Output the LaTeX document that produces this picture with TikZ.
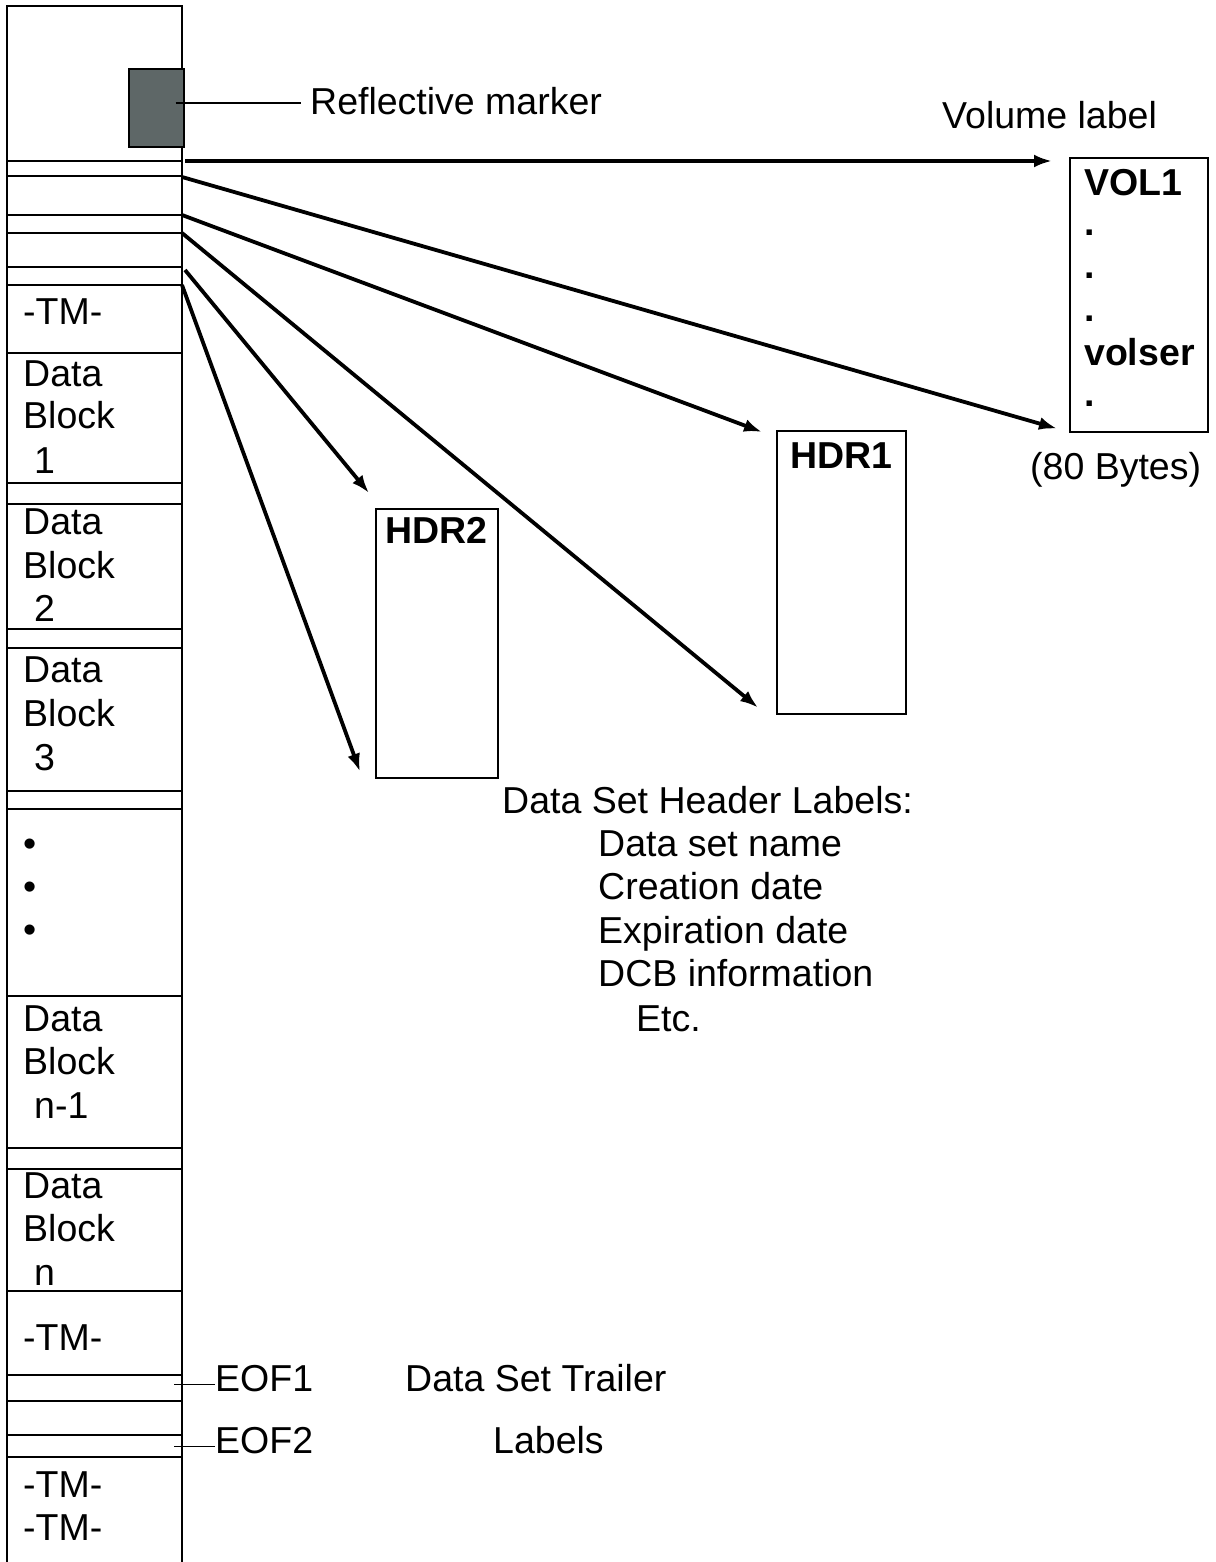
\documentclass[tikz,border=0pt]{standalone}
\usepackage{fontspec}
\setmainfont{Liberation Sans}
\usetikzlibrary{arrows.meta,calc}
\definecolor{markgray}{HTML}{5E6767}

\begin{document}
\begin{tikzpicture}[x=1pt,y=-1pt,
  txt/.style={inner sep=0,anchor=base west,yshift=-13.5pt,font=\fontsize{37.5}{45}\selectfont},
  btxt/.style={txt,font=\fontsize{37.5}{45}\selectfont\bfseries},
  lbox/.style={draw,line width=1.6pt,anchor=north west,inner sep=0},
  thin/.style={line width=1.8pt},
  arr/.style={->,line width=3.8pt},
  >={Latex[length=18pt,width=13pt]}]
  \useasboundingbox (0,0) rectangle (1215,1562);
  % tape
  \draw[thin] (7,1562) |- (182,6) -- (182,1562);
  \foreach \y in {161,176,215,233,267,285,353,483,504,629,648,791,809,996,1148,1169,1291,1375,1401,1435,1457}
    \draw[thin] (7,\y) -- (182,\y);
  \node[lbox,fill=markgray,minimum width=55,minimum height=78] (mark) at (128,68) {};
  \foreach \y/\t in {311/-TM-,373/Data,415/Block,521/Data,565/Block,669/Data,713/Block,
    1018/Data,1061/Block,1185/Data,1228/Block,1337/-TM-,1484/-TM-,1527/-TM-}
    \node[txt] (t\y) at (23,\y) {\t};
  \foreach \y/\t in {460/1,608/2,757/3,1105/n-1,1272/n}
    \node[txt] (n\y) at (34,\y) {\t};
  \foreach \y in {843,886,929}
    \node[txt] (b\y) at (23,\y) {•};
  % reflective marker
  \node[txt] (refl) at (310,101) {Reflective marker};
  \coordinate (rm) at (301,103);
  \draw[line width=1.5pt,shorten <=-9pt] (mark.east |- rm) -- (rm);
  % volume label
  \node[txt] (vlab) at (942,115) {Volume label};
  \node[lbox,minimum width=138,minimum height=274] (vol1) at (1069,157) {};
  \node[btxt] (v1) at (1084,182) {VOL1};
  \foreach \y in {222,265,308,393}
    \node[btxt] (d\y) at (1084,\y) {.};
  \node[btxt] (vser) at (1084,352) {volser};
  \node[txt] (bytes) at (1030,466) {(80 Bytes)};
  % header labels
  \node[lbox,minimum width=129,minimum height=283] (hdr1) at (776,430) {};
  \node[btxt,anchor=base] (h1) at ($(hdr1.north)+(0,25)$) {HDR1};
  \node[lbox,minimum width=122,minimum height=269] (hdr2) at (375,508) {};
  \node[btxt,anchor=base] (h2) at ($(hdr2.north)+(0,22)$) {HDR2};
  % arrows from the tape
  \coordinate (s1) at (185,161);
  \coordinate (s2) at (182,177);
  \coordinate (s3) at (182,215);
  \coordinate (s4) at (182,233);
  \coordinate (s5) at (185,270);
  \coordinate (s6) at (182,285);
  \draw[arr,line width=4.8pt] (s1) -- ($(s1 -| vol1.west)+(-17,0)$);
  \draw[arr] (s2) -- ($(vol1.south west)+(-12,-4)$);
  \draw[arr] (s3) -- ($(hdr1.north west)+(-14,2)$);
  \draw[arr] (s4) -- ($(hdr1.south west)+(-18,-7)$);
  \draw[arr] (s5) -- ($(hdr2.north west)+(-6,-15)$);
  \draw[arr] (s6) -- ($(hdr2.south west)+(-15,-7)$);
  % header contents
  \node[txt] (hl) at (502,800) {Data Set Header Labels:};
  \node[txt] (hl1) at (598,843) {Data set name};
  \node[txt] (hl2) at (598,886) {Creation date};
  \node[txt] (hl3) at (598,930) {Expiration date};
  \node[txt] (hl4) at (598,973) {DCB information};
  \node[txt] (hl5) at (636,1018) {Etc.};
  % trailer labels
  \coordinate (tapein) at (174,0);
  \node[txt] (eof1) at (215,1378) {EOF1};
  \node[txt] (tr1) at (405,1378) {Data Set Trailer};
  \node[txt] (eof2) at (215,1440) {EOF2};
  \node[txt] (tr2) at (493,1440) {Labels};
  \draw[line width=1.5pt] ($(eof1.base west)+(0,-7)$) -- ($(eof1.base west -| tapein)+(0,-7)$);
  \draw[line width=1.5pt] ($(eof2.base west)+(0,-7)$) -- ($(eof2.base west -| tapein)+(0,-7)$);
\end{tikzpicture}
\end{document}
